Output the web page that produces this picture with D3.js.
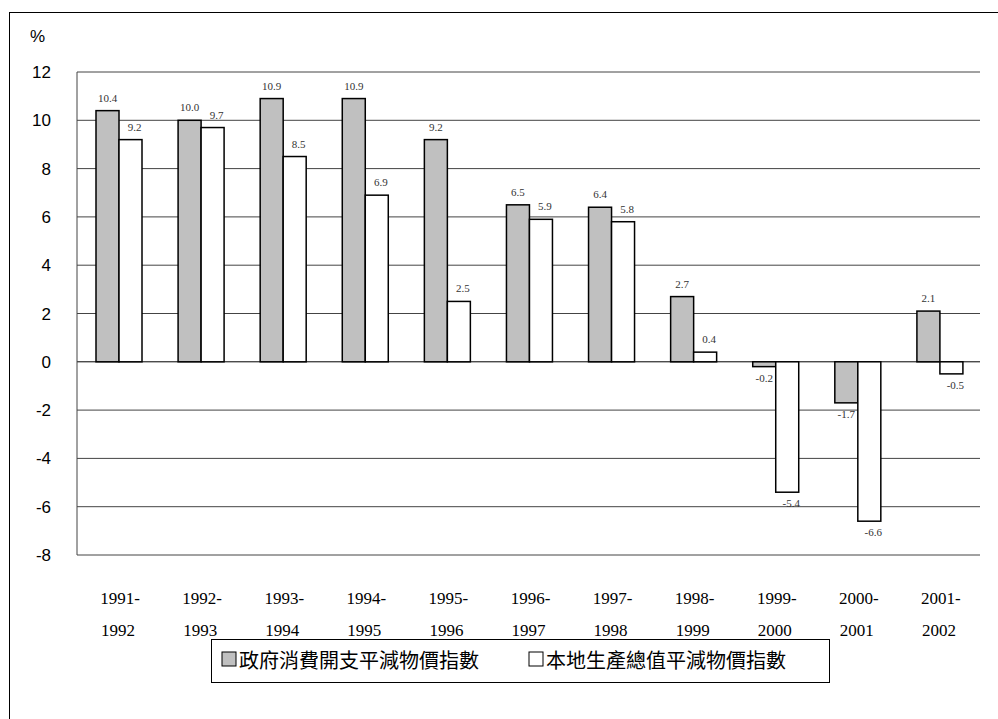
<!DOCTYPE html>
<html><head><meta charset="utf-8">
<script src="https://cdn.jsdelivr.net/npm/d3@7"></script>
<style>body{margin:0;background:#fff}</style>
</head><body>
<script>
// データ
const periods = ["1991-1992","1992-1993","1993-1994","1994-1995","1995-1996","1996-1997","1997-1998","1998-1999","1999-2000","2000-2001","2001-2002"];
const govValues = [10.4,10.0,10.9,10.9,9.2,6.5,6.4,2.7,-0.2,-1.7,2.1];
const gdpValues = [9.2,9.7,8.5,6.9,2.5,5.9,5.8,0.4,-5.4,-6.6,-0.5];
const yTicks = [-8,-6,-4,-2,0,2,4,6,8,10,12];
const seriesNames = ["政府消費開支平減物價指數","本地生產總值平減物價指數"];

const SERIF = "'Liberation Serif', 'DejaVu Serif', serif";
const SANS = "'Liberation Sans', Arial, sans-serif";

const W = 998, H = 719;
const svg = d3.select("body").append("svg").attr("width", W).attr("height", H);

svg.append("rect").attr("x", 9.5).attr("y", 12.5).attr("width", 990).attr("height", 720)
  .attr("fill", "none").attr("stroke", "#000");

const x = d3.scaleBand().domain(periods).range([77, 980]);
const y = d3.scaleLinear().domain([-8, 12]).range([555, 72]);
const bw = 23;

// グリッド
svg.append("g").selectAll("line").data(yTicks).enter().append("line")
  .attr("x1", 77).attr("x2", 980).attr("y1", d => y(d)).attr("y2", d => y(d))
  .attr("stroke", d => d === 0 ? "#000" : "#444").attr("stroke-width", 1);
svg.append("line").attr("x1", 77).attr("x2", 77).attr("y1", 72).attr("y2", 555).attr("stroke", "#444");

// 軸ラベル
svg.append("g").selectAll("text").data(yTicks).enter().append("text")
  .attr("font-family", SANS).attr("font-size", 17)
  .attr("x", 51).attr("y", d => y(d) + 6).attr("text-anchor", "end").text(d => d);
svg.append("text").attr("font-family", SANS).attr("font-size", 17).attr("x", 30).attr("y", 42).text("%");

const xl = svg.append("g").selectAll("text").data(periods).enter().append("text")
  .attr("font-family", SERIF).attr("font-size", 17).attr("text-anchor", "middle");
xl.append("tspan").attr("x", d => x(d) + x.bandwidth() / 2 + 2).attr("y", 604).text(d => d.split("-")[0] + "-");
xl.append("tspan").attr("x", d => x(d) + x.bandwidth() / 2).attr("y", 636).text(d => d.split("-")[1]);

// バー
function bars(vals, off, fill) {
  const g = svg.append("g");
  g.selectAll("rect").data(vals).enter().append("rect")
    .attr("x", (d, i) => x(periods[i]) + off).attr("width", bw)
    .attr("y", d => y(Math.max(0, d))).attr("height", d => Math.abs(y(d) - y(0)))
    .attr("fill", fill).attr("stroke", "#000").attr("stroke-width", 1.5);
  g.selectAll("text").data(vals).enter().append("text")
    .attr("font-family", SERIF).attr("font-size", 11)
    .attr("x", (d, i) => x(periods[i]) + off + (off > 30 ? bw / 2 + 4 : bw / 2))
    .attr("y", d => d >= 0 ? y(d) - 9 : y(d) + 15)
    .attr("text-anchor", "middle").attr("fill", "#333").text(d => d.toFixed(1));
}
bars(govValues, 19, "#c0c0c0");
bars(gdpValues, 42, "#fff");

// 凡例
svg.append("rect").attr("x", 211.5).attr("y", 639.5).attr("width", 618).attr("height", 43)
  .attr("fill", "#fff").attr("stroke", "#000");
[["#c0c0c0", 222], ["#fff", 529]].forEach((c, i) => {
  svg.append("rect").attr("x", c[1]).attr("y", 652).attr("width", 14).attr("height", 14)
    .attr("fill", c[0]).attr("stroke", "#000");
  svg.append("text").attr("x", c[1] + 17).attr("y", 668)
    .attr("font-family", "'Noto Sans CJK TC'").attr("font-size", 20).text(seriesNames[i]);
});
</script>
</body></html>
